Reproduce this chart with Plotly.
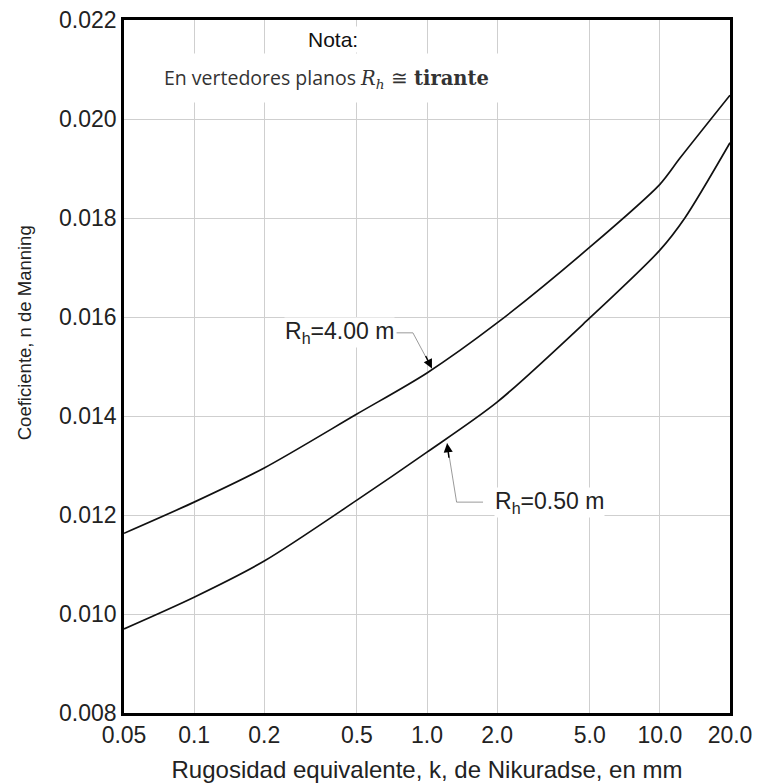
import numpy as np
import plotly.graph_objects as go

# ---- data ----
k_upper = [0.05, 0.1, 0.2, 0.5, 1.0, 2.0, 5.0, 10.0, 12.2, 20.0]
n_upper = [0.01163, 0.01226, 0.01295, 0.01404, 0.01487, 0.01588, 0.01741, 0.01868, 0.01921, 0.02048]

k_lower = [0.05, 0.1, 0.2, 0.5, 1.0, 2.0, 5.0, 10.0, 12.8, 20.0]
n_lower = [0.00970, 0.01034, 0.01107, 0.01230, 0.01327, 0.01428, 0.01598, 0.01735, 0.01800, 0.01952]

x_ticks = [0.05, 0.1, 0.2, 0.5, 1.0, 2.0, 5.0, 10.0, 20.0]
x_tick_labels = ["0.05", "0.1", "0.2", "0.5", "1.0", "2.0", "5.0", "10.0", "20.0"]
y_ticks = [0.008, 0.010, 0.012, 0.014, 0.016, 0.018, 0.020, 0.022]
y_tick_labels = ["0.008", "0.010", "0.012", "0.014", "0.016", "0.018", "0.020", "0.022"]

label_upper = "R<sub>h</sub>=4.00 m"
label_lower = "R<sub>h</sub>=0.50 m"

# leader-line paths (label end -> bend -> curve)
leader_upper_k = [0.74, 0.87, 1.05]
leader_upper_n = [0.01568, 0.01568, 0.01496]
leader_lower_k = [1.74, 1.34, 1.22]
leader_lower_n = [0.01226, 0.01226, 0.01345]

FONT = "Liberation Sans, Arial, sans-serif"

fig = go.Figure()
for kk, nn in ((k_upper, n_upper), (k_lower, n_lower)):
    fig.add_trace(go.Scatter(x=kk, y=nn, mode="lines",
                             line=dict(color="#111111", width=1.7, shape="spline", smoothing=0.8),
                             showlegend=False, hoverinfo="skip"))
for kk, nn in ((leader_upper_k, leader_upper_n), (leader_lower_k, leader_lower_n)):
    fig.add_trace(go.Scatter(x=kk, y=nn, mode="lines",
                             line=dict(color="#808080", width=0.8),
                             showlegend=False, hoverinfo="skip"))

annotations = [
    dict(x=np.log10(0.73), y=leader_upper_n[0], xref="x", yref="y",
         text=label_upper, showarrow=False, xanchor="right", yanchor="middle",
         font=dict(family=FONT, size=23, color="#222222"), bgcolor="white", borderpad=0),
    dict(x=np.log10(1.94), y=leader_lower_n[0], xref="x", yref="y",
         text=label_lower, showarrow=False, xanchor="left", yanchor="middle",
         font=dict(family=FONT, size=23, color="#222222"), bgcolor="white", borderpad=0),
    # arrowheads
    dict(x=np.log10(leader_upper_k[2]), y=leader_upper_n[2], xref="x", yref="y",
         text="", showarrow=True, ax=-7, ay=-14, arrowhead=2, arrowsize=1.3,
         arrowwidth=1.4, arrowcolor="black"),
    dict(x=np.log10(leader_lower_k[2]), y=leader_lower_n[2], xref="x", yref="y",
         text="", showarrow=True, ax=2, ay=16, arrowhead=2, arrowsize=1.3,
         arrowwidth=1.4, arrowcolor="black"),
    # note
    dict(x=np.log10(0.372), y=0.02083, xref="x", yref="y",
         text=("En vertedores planos "
               "<span style='font-family:DejaVu Serif, serif'><i>R<sub>h</sub></i> ≅ <b>tirante</b></span>"),
         showarrow=False, xanchor="center", yanchor="middle",
         font=dict(family="Open Sans, sans-serif", size=19.5, color="#333333"),
         bgcolor="white", borderpad=10),
    dict(x=np.log10(0.394), y=0.0216, xref="x", yref="y",
         text="Nota:", showarrow=False, xanchor="center", yanchor="middle",
         font=dict(family=FONT, size=21, color="#111111"), bgcolor="white", borderpad=1),
    # y-axis title (sits above the vertical centre of the plot in the reference)
    dict(x=-0.165, y=0.548, xref="paper", yref="paper", textangle=-90,
         text="Coeficiente, n de Manning", showarrow=False,
         xanchor="center", yanchor="middle",
         font=dict(family=FONT, size=18.5, color="#222222")),
]

fig.update_layout(
    width=759, height=783,
    margin=dict(l=124, r=29, t=20, b=70),
    paper_bgcolor="white", plot_bgcolor="white",
    annotations=annotations,
    xaxis=dict(
        type="log", range=[np.log10(0.05), np.log10(20)],
        tickvals=x_ticks, ticktext=x_tick_labels,
        showgrid=True, gridcolor="#cfcfcf", gridwidth=1,
        showline=True, linecolor="black", linewidth=2.5, mirror=True,
        ticks="", zeroline=False, automargin=False,
        tickfont=dict(family=FONT, size=23, color="#222222"),
        title=dict(text="Rugosidad equivalente, k, de Nikuradse, en mm",
                   font=dict(family=FONT, size=24, color="#222222"), standoff=14),
    ),
    yaxis=dict(
        range=[0.008, 0.022],
        tickvals=y_ticks, ticktext=y_tick_labels,
        showgrid=True, gridcolor="#cfcfcf", gridwidth=1,
        showline=True, linecolor="black", linewidth=2.5, mirror=True,
        ticks="", zeroline=False, automargin=False,
        tickfont=dict(family=FONT, size=23, color="#222222"),
    ),
)

fig.write_html("out.html", config={"displayModeBar": False},
               post_script="document.body.style.margin='0px';document.body.style.overflow='hidden';")
